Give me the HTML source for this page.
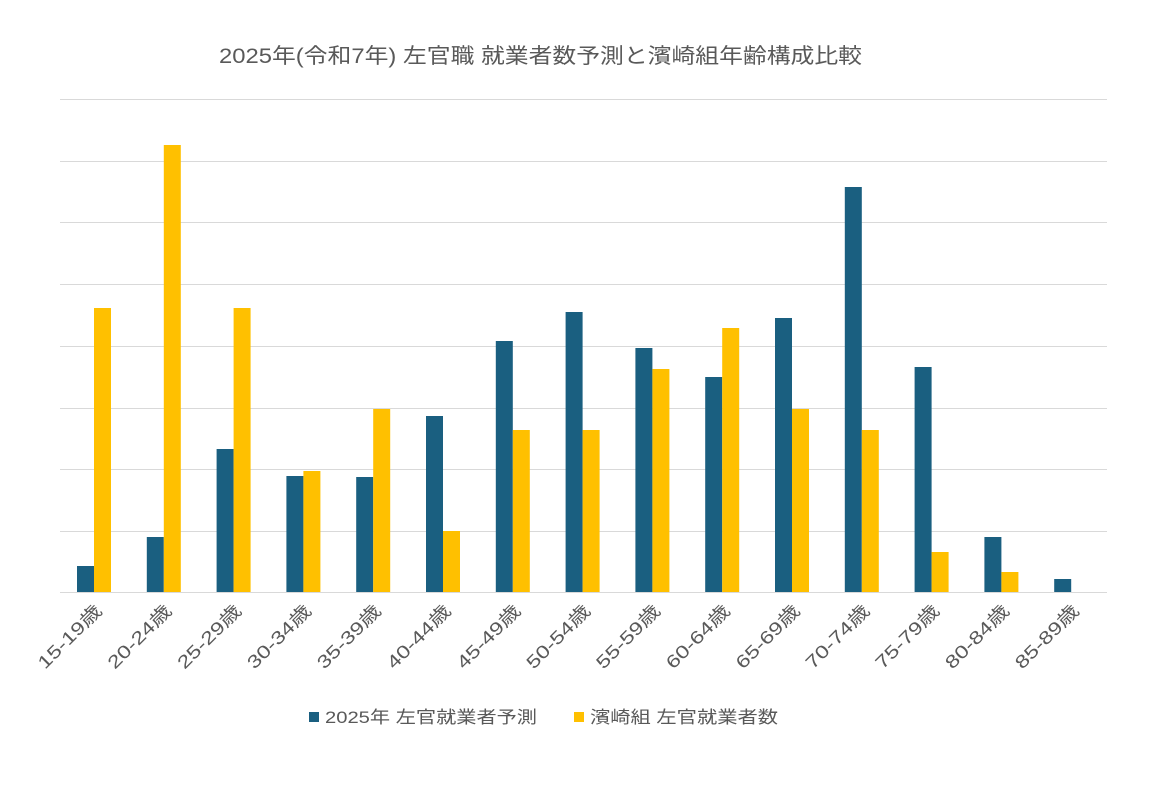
<!DOCTYPE html><html><head><meta charset="utf-8"><style>body{margin:0;background:#fff}svg{display:block}text{font-family:"Liberation Sans","Noto Sans CJK JP",sans-serif;fill:#595959}</style></head><body>
<svg width="1164" height="812" xmlns="http://www.w3.org/2000/svg">
<rect width="1164" height="812" fill="#fff"/>
<text x="219" y="63" font-size="21" textLength="643" lengthAdjust="spacingAndGlyphs">2025年(令和7年) 左官職 就業者数予測と濱崎組年齢構成比較</text>
<g stroke="#d9d9d9" stroke-width="1">
<line x1="60" x2="1107" y1="99.5" y2="99.5"/><line x1="60" x2="1107" y1="161.5" y2="161.5"/><line x1="60" x2="1107" y1="222.5" y2="222.5"/><line x1="60" x2="1107" y1="284.5" y2="284.5"/><line x1="60" x2="1107" y1="346.5" y2="346.5"/><line x1="60" x2="1107" y1="408.5" y2="408.5"/><line x1="60" x2="1107" y1="469.5" y2="469.5"/><line x1="60" x2="1107" y1="531.5" y2="531.5"/><line x1="60" x2="1107" y1="592.5" y2="592.5"/>
</g>
<g fill="#1a5f80">
<rect x="77" y="566" width="17" height="26"/>
<rect x="146.8" y="537" width="17" height="55"/>
<rect x="216.6" y="449" width="17" height="143"/>
<rect x="286.4" y="476" width="17" height="116"/>
<rect x="356.2" y="477" width="17" height="115"/>
<rect x="426" y="416" width="17" height="176"/>
<rect x="495.8" y="341" width="17" height="251"/>
<rect x="565.6" y="312" width="17" height="280"/>
<rect x="635.4" y="348" width="17" height="244"/>
<rect x="705.2" y="377" width="17" height="215"/>
<rect x="775" y="318" width="17" height="274"/>
<rect x="844.8" y="187" width="17" height="405"/>
<rect x="914.6" y="367" width="17" height="225"/>
<rect x="984.4" y="537" width="17" height="55"/>
<rect x="1054.2" y="579" width="17" height="13"/>
</g>
<g fill="#ffc000">
<rect x="94" y="308" width="17" height="284"/>
<rect x="163.8" y="145" width="17" height="447"/>
<rect x="233.6" y="308" width="17" height="284"/>
<rect x="303.4" y="471" width="17" height="121"/>
<rect x="373.2" y="409" width="17" height="183"/>
<rect x="443" y="531" width="17" height="61"/>
<rect x="512.8" y="430" width="17" height="162"/>
<rect x="582.6" y="430" width="17" height="162"/>
<rect x="652.4" y="369" width="17" height="223"/>
<rect x="722.2" y="328" width="17" height="264"/>
<rect x="792" y="409" width="17" height="183"/>
<rect x="861.8" y="430" width="17" height="162"/>
<rect x="931.6" y="552" width="17" height="40"/>
<rect x="1001.4" y="572" width="17" height="20"/>
</g>
<g font-size="18" text-anchor="end">
<text transform="translate(103,612) rotate(-45)" textLength="82" lengthAdjust="spacingAndGlyphs">15-19歳</text>
<text transform="translate(172.8,612) rotate(-45)" textLength="82" lengthAdjust="spacingAndGlyphs">20-24歳</text>
<text transform="translate(242.6,612) rotate(-45)" textLength="82" lengthAdjust="spacingAndGlyphs">25-29歳</text>
<text transform="translate(312.4,612) rotate(-45)" textLength="82" lengthAdjust="spacingAndGlyphs">30-34歳</text>
<text transform="translate(382.2,612) rotate(-45)" textLength="82" lengthAdjust="spacingAndGlyphs">35-39歳</text>
<text transform="translate(452,612) rotate(-45)" textLength="82" lengthAdjust="spacingAndGlyphs">40-44歳</text>
<text transform="translate(521.8,612) rotate(-45)" textLength="82" lengthAdjust="spacingAndGlyphs">45-49歳</text>
<text transform="translate(591.6,612) rotate(-45)" textLength="82" lengthAdjust="spacingAndGlyphs">50-54歳</text>
<text transform="translate(661.4,612) rotate(-45)" textLength="82" lengthAdjust="spacingAndGlyphs">55-59歳</text>
<text transform="translate(731.2,612) rotate(-45)" textLength="82" lengthAdjust="spacingAndGlyphs">60-64歳</text>
<text transform="translate(801,612) rotate(-45)" textLength="82" lengthAdjust="spacingAndGlyphs">65-69歳</text>
<text transform="translate(870.8,612) rotate(-45)" textLength="82" lengthAdjust="spacingAndGlyphs">70-74歳</text>
<text transform="translate(940.6,612) rotate(-45)" textLength="82" lengthAdjust="spacingAndGlyphs">75-79歳</text>
<text transform="translate(1010.4,612) rotate(-45)" textLength="82" lengthAdjust="spacingAndGlyphs">80-84歳</text>
<text transform="translate(1080.2,612) rotate(-45)" textLength="82" lengthAdjust="spacingAndGlyphs">85-89歳</text>
</g>
<rect x="309" y="712" width="10" height="10" fill="#1a5f80"/>
<text x="325" y="723" font-size="17" textLength="212" lengthAdjust="spacingAndGlyphs">2025年 左官就業者予測</text>
<rect x="574" y="712" width="10" height="10" fill="#ffc000"/>
<text x="590" y="723" font-size="17" textLength="188" lengthAdjust="spacingAndGlyphs">濱崎組 左官就業者数</text>
</svg></body></html>
